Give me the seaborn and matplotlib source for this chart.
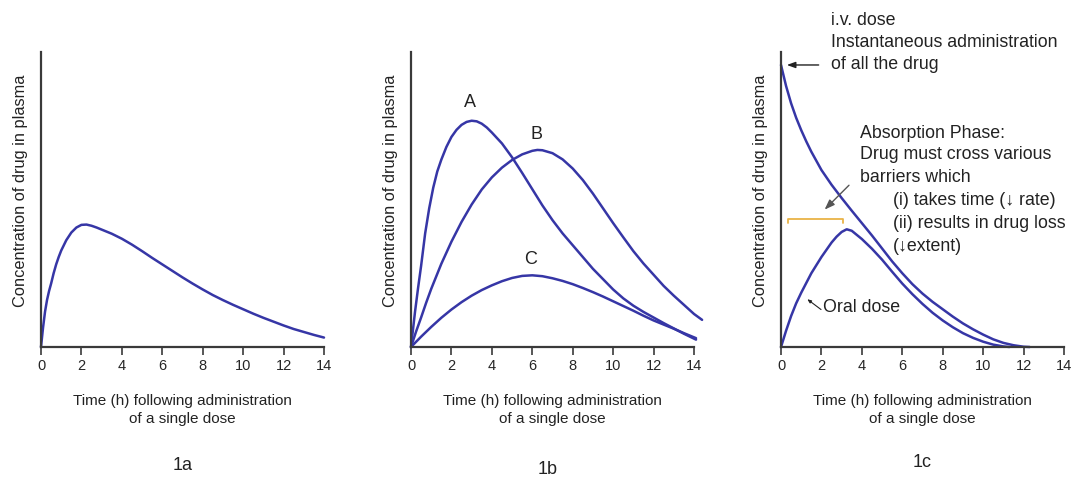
import numpy as np
import pandas as pd
import seaborn as sns
import matplotlib.pyplot as plt

# ---- values (time in h, concentration in axis fraction) ----
t_1a = [0, 0.1, 0.2, 0.3, 0.4, 0.5, 0.625, 0.75, 0.875, 1, 1.25, 1.5, 1.75, 2, 2.25, 2.5, 2.75, 3, 3.5, 4,
        4.5, 5, 5.5, 6, 6.5, 7, 7.5, 8, 8.5, 9, 9.5, 10, 10.5, 11, 11.5, 12, 12.5, 13, 13.5, 14]
c_1a = [0, 0.065, 0.12, 0.16, 0.19, 0.215, 0.25, 0.28, 0.305, 0.327, 0.362, 0.388, 0.405, 0.414, 0.415, 0.411,
        0.405, 0.398, 0.384, 0.367, 0.347, 0.325, 0.302, 0.28, 0.258, 0.236, 0.215, 0.195, 0.176, 0.159, 0.143,
        0.128, 0.113, 0.099, 0.086, 0.073, 0.061, 0.051, 0.041, 0.032]

t_A = [0, 0.1, 0.2, 0.35, 0.5, 0.7, 0.9, 1.1, 1.3, 1.5, 1.75, 2, 2.25, 2.5, 2.75, 3, 3.25, 3.5, 3.75, 4,
       4.5, 5, 5.5, 6, 6.5, 7, 7.5, 8, 8.5, 9, 9.5, 10, 10.5, 11, 11.5, 12, 12.5, 13, 13.5, 14.1]
c_A = [0, 0.06, 0.12, 0.2, 0.275, 0.385, 0.47, 0.54, 0.595, 0.635, 0.678, 0.712, 0.736, 0.753, 0.763, 0.767,
       0.765, 0.757, 0.744, 0.727, 0.69, 0.643, 0.59, 0.535, 0.48, 0.43, 0.385, 0.345, 0.305, 0.265, 0.23,
       0.195, 0.165, 0.14, 0.119, 0.1, 0.081, 0.063, 0.045, 0.025]

t_B = [0, 0.25, 0.5, 0.75, 1, 1.5, 2, 2.5, 3, 3.5, 4, 4.5, 5, 5.5, 6, 6.25, 6.5, 7, 7.5, 8, 8.5, 9, 9.5,
       10, 10.5, 11, 11.5, 12, 12.5, 13, 13.5, 14, 14.4]
c_B = [0, 0.052, 0.1, 0.15, 0.197, 0.282, 0.357, 0.424, 0.483, 0.534, 0.575, 0.608, 0.634, 0.653, 0.665,
       0.668, 0.667, 0.657, 0.636, 0.605, 0.566, 0.52, 0.47, 0.42, 0.372, 0.325, 0.283, 0.245, 0.207, 0.174,
       0.143, 0.112, 0.092]

t_C = [0, 0.5, 1, 1.5, 2, 2.5, 3, 3.5, 4, 4.5, 5, 5.5, 6, 6.5, 7, 7.5, 8, 8.5, 9, 9.5, 10, 10.5, 11, 11.5,
       12, 12.5, 13, 13.5, 14.1]
c_C = [0, 0.035, 0.068, 0.099, 0.127, 0.152, 0.174, 0.193, 0.209, 0.223, 0.234, 0.241, 0.243, 0.24, 0.233,
       0.224, 0.213, 0.2, 0.186, 0.171, 0.155, 0.139, 0.123, 0.106, 0.09, 0.076, 0.062, 0.047, 0.03]

t_iv = [0, 0.25, 0.5, 0.75, 1, 1.25, 1.5, 2, 2.5, 3, 3.5, 4, 4.5, 5, 5.5, 6, 6.5, 7, 7.5, 8, 8.5, 9, 9.5,
        10, 10.5, 11, 11.5, 12, 12.3]
c_iv = [0.956, 0.885, 0.826, 0.777, 0.735, 0.697, 0.662, 0.6, 0.55, 0.505, 0.462, 0.42, 0.378, 0.334, 0.29,
        0.25, 0.213, 0.181, 0.153, 0.128, 0.103, 0.08, 0.06, 0.042, 0.026, 0.014, 0.006, 0.001, 0]

t_oral = [0, 0.25, 0.5, 0.75, 1, 1.5, 2, 2.5, 2.75, 3, 3.25, 3.5, 3.75, 4, 4.5, 5, 5.5, 6, 6.5, 7, 7.5, 8,
          8.5, 9, 9.5, 10, 10.5, 11, 11.3]
c_oral = [0, 0.055, 0.105, 0.148, 0.184, 0.25, 0.305, 0.354, 0.374, 0.39, 0.399, 0.394, 0.38, 0.366, 0.333,
          0.296, 0.255, 0.215, 0.179, 0.146, 0.116, 0.09, 0.067, 0.047, 0.031, 0.018, 0.008, 0.002, 0]

xticks = [0, 2, 4, 6, 8, 10, 12, 14]
panel_names = ["1a", "1b", "1c"]
ylab = "Concentration of drug in plasma"
xlab = "Time (h) following administration\nof a single dose"

sns.set_style("white")
plt.rcParams['font.family'] = ['Liberation Sans', 'DejaVu Sans']

blue = '#3636a6'
axcol = '#3a3a3a'
txtcol = '#222222'

fig = plt.figure(figsize=(10.77, 4.79), dpi=100)
W, H = 1077, 479
lefts = [41, 411, 781]
axs = [fig.add_axes([l / W, (H - 347) / H, 283 / W, 295 / H]) for l in lefts]


def curve(ax, t, c):
    df = pd.DataFrame({'t': t, 'c': c})
    sns.lineplot(data=df, x='t', y='c', ax=ax, color=blue, lw=1.8, clip_on=False)


curve(axs[0], t_1a, c_1a)
curve(axs[1], t_A, c_A)
curve(axs[1], t_B, c_B)
curve(axs[1], t_C, c_C)
curve(axs[2], t_iv, c_iv)
curve(axs[2], t_oral, c_oral)

label_y = [-0.40, -0.415, -0.39]
label_x = [0.5, 0.482, 0.497]
for i, ax in enumerate(axs):
    ax.set_xlim(0, 14)
    ax.set_ylim(0, 1)
    ax.set_xticks(xticks)
    ax.set_yticks([])
    sns.despine(ax=ax)
    for s in ['left', 'bottom']:
        ax.spines[s].set_color(axcol)
        ax.spines[s].set_linewidth(1.6)
    ax.tick_params(axis='x', direction='out', length=6, width=1.2, color=axcol,
                   labelsize=10.5, pad=3, bottom=True)
    ax.set_ylabel(ylab, fontsize=11.8, color=txtcol)
    ax.yaxis.set_label_coords(-0.045, 0.53)
    ax.set_xlabel(xlab, fontsize=11, color=txtcol, linespacing=1.35)
    ax.xaxis.set_label_coords(0.5, -0.16)
    ax.text(label_x[i], label_y[i], panel_names[i], transform=ax.transAxes,
            ha='center', va='center', fontsize=13, color=txtcol)

# curve letters in 1b
ax = axs[1]
for lab, tx, ty in [("A", 2.9, 0.83), ("B", 6.2, 0.72), ("C", 5.9, 0.295)]:
    ax.text(tx, ty, lab, ha='center', va='center', fontsize=13, color=txtcol)

# annotations in 1c
ax = axs[2]
fs = 12.8
ax.text(2.45, 1.108, "i.v. dose", ha='left', va='center', fontsize=fs, color=txtcol)
ax.text(2.45, 1.032, "Instantaneous administration", ha='left', va='center', fontsize=fs, color=txtcol)
ax.text(2.45, 0.956, "of all the drug", ha='left', va='center', fontsize=fs, color=txtcol)
ax.annotate("", xy=(0.15, 0.956), xytext=(2.0, 0.956),
            arrowprops=dict(arrowstyle='-|>,head_length=0.5,head_width=0.18', color=txtcol, lw=1.0),
            annotation_clip=False)

lines = [(3.9, 0.725, "Absorption Phase:"),
         (3.9, 0.651, "Drug must cross various"),
         (3.9, 0.573, "barriers which"),
         (5.52, 0.496, "(i) takes time (\u2193 rate)"),
         (5.52, 0.418, "(ii) results in drug loss"),
         (5.52, 0.341, "(\u2193extent)")]
for tx, ty, s in lines:
    ax.text(tx, ty, s, ha='left', va='center', fontsize=fs, color=txtcol)

ax.annotate("", xy=(2.06, 0.459), xytext=(3.46, 0.555),
            arrowprops=dict(arrowstyle='-|>,head_length=0.6,head_width=0.22', color='#555555', lw=1.0))

# yellow bracket over the absorption phase
ax.plot([0.34, 0.34, 3.08, 3.08], [0.419, 0.434, 0.434, 0.419], color='#e9b347', lw=1.3)

ax.text(2.06, 0.134, "Oral dose", ha='left', va='center', fontsize=fs, color=txtcol)
ax.annotate("", xy=(1.3, 0.162), xytext=(1.98, 0.127),
            arrowprops=dict(arrowstyle='-|>,head_length=0.22,head_width=0.09', color=txtcol, lw=0.8,
                            shrinkA=0, shrinkB=0))

fig.savefig("out.png", dpi=100)
